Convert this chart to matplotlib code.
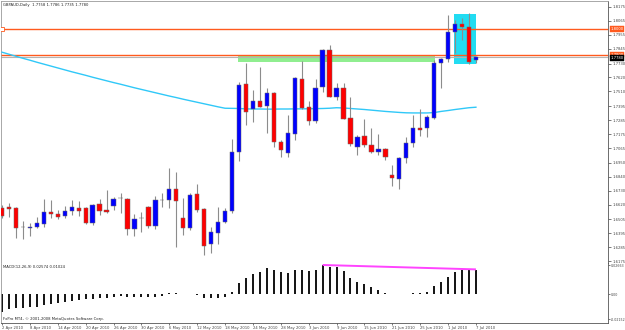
import matplotlib
matplotlib.use('Agg')
import matplotlib.pyplot as plt
from matplotlib.patches import Rectangle

# GBPAUD daily, 2 Apr 2010 .. 7 Jul 2010 (one bar per weekday)
opens = [1.6591, 1.6603, 1.6596, 1.6442, 1.6438, 1.6446, 1.6467, 1.6559, 1.6543, 1.6533,
         1.6572, 1.6596, 1.6596, 1.6473, 1.6622, 1.6577, 1.6609, 1.6670, 1.6662, 1.6428,
         1.6513, 1.6599, 1.6452, 1.6656, 1.6656, 1.6743, 1.6512, 1.6438, 1.6701, 1.6583,
         1.6307, 1.6394, 1.6485, 1.6572, 1.7036, 1.7567, 1.7370, 1.7438, 1.7396, 1.7496,
         1.7115, 1.7028, 1.7176, 1.7606, 1.7386, 1.7278, 1.7548, 1.7837, 1.7469, 1.7535,
         1.7299, 1.7076, 1.7160, 1.7089, 1.7036, 1.7055, 1.6851, 1.6819, 1.6984, 1.7102,
         1.7220, 1.7220, 1.7299, 1.7732, 1.7763, 1.7976, 1.8041, 1.8015, 1.7758]
highs = [1.6617, 1.6633, 1.6601, 1.6491, 1.6478, 1.6525, 1.6664, 1.6656, 1.6577, 1.6609,
         1.6656, 1.6648, 1.6603, 1.6625, 1.6664, 1.6735, 1.6682, 1.6711, 1.6670, 1.6546,
         1.6559, 1.6609, 1.6688, 1.6709, 1.6906, 1.6879, 1.6670, 1.6709, 1.6782, 1.6591,
         1.6446, 1.6599, 1.6591, 1.7134, 1.7587, 1.7732, 1.7522, 1.7705, 1.7535, 1.7508,
         1.7128, 1.7325, 1.7622, 1.7752, 1.7438, 1.7606, 1.7842, 1.7876, 1.7575, 1.7579,
         1.7464, 1.7168, 1.7291, 1.7220, 1.7173, 1.7063, 1.6932, 1.6992, 1.7154, 1.7325,
         1.7370, 1.7325, 1.7758, 1.7771, 1.8112, 1.8073, 1.8086, 1.8125, 1.7786]
lows = [1.6514, 1.6522, 1.6357, 1.6349, 1.6373, 1.6436, 1.6446, 1.6514, 1.6507, 1.6514,
        1.6538, 1.6530, 1.6467, 1.6462, 1.6538, 1.6556, 1.6577, 1.6554, 1.6381, 1.6373,
        1.6402, 1.6433, 1.6425, 1.6599, 1.6591, 1.6284, 1.6381, 1.6420, 1.6564, 1.6223,
        1.6237, 1.6310, 1.6473, 1.6551, 1.6963, 1.7246, 1.7272, 1.7386, 1.7181, 1.7076,
        1.6997, 1.6992, 1.7128, 1.7370, 1.7246, 1.7260, 1.7508, 1.7464, 1.7443, 1.7291,
        1.7081, 1.7010, 1.7076, 1.7028, 1.7010, 1.6971, 1.6766, 1.6740, 1.6950, 1.7073,
        1.7160, 1.7154, 1.7291, 1.7535, 1.7745, 1.7813, 1.7915, 1.7726, 1.7735]
closes = [1.6530, 1.6588, 1.6438, 1.6440, 1.6446, 1.6475, 1.6562, 1.6543, 1.6525, 1.6572,
          1.6599, 1.6572, 1.6473, 1.6617, 1.6572, 1.6562, 1.6664, 1.6669, 1.6425, 1.6507,
          1.6512, 1.6454, 1.6656, 1.6657, 1.6743, 1.6651, 1.6433, 1.6695, 1.6577, 1.6296,
          1.6402, 1.6485, 1.6572, 1.7036, 1.7561, 1.7351, 1.7438, 1.7390, 1.7501, 1.7115,
          1.7050, 1.7181, 1.7614, 1.7378, 1.7280, 1.7540, 1.7837, 1.7469, 1.7535, 1.7294,
          1.7097, 1.7154, 1.7089, 1.7036, 1.7055, 1.6992, 1.6827, 1.6984, 1.7102, 1.7220,
          1.7207, 1.7307, 1.7732, 1.7763, 1.7981, 1.8041, 1.8015, 1.7745, 1.7780]

# long moving average (light blue line)
ma = [1.7819, 1.7803, 1.7787, 1.7771, 1.7756, 1.7740, 1.7725, 1.7710, 1.7695, 1.7680,
      1.7665, 1.7651, 1.7637, 1.7622, 1.7608, 1.7594, 1.7580, 1.7567, 1.7553, 1.7539,
      1.7526, 1.7513, 1.7500, 1.7487, 1.7474, 1.7462, 1.7449, 1.7437, 1.7425, 1.7413,
      1.7401, 1.7389, 1.7378, 1.7377, 1.7376, 1.7373, 1.7372, 1.7372, 1.7371, 1.7371,
      1.7372, 1.7372, 1.7373, 1.7373, 1.7374, 1.7375, 1.7376, 1.7378, 1.7382, 1.7380,
      1.7376, 1.7372, 1.7368, 1.7363, 1.7358, 1.7353, 1.7349, 1.7345, 1.7342, 1.7341,
      1.7341, 1.7341, 1.7344, 1.7353, 1.7360, 1.7368, 1.7375, 1.7382, 1.7386]

# MACD(12,26,9) main histogram
macd = [-0.0158, -0.0137, -0.0127, -0.0122, -0.0118, -0.0113, -0.0097, -0.0088, -0.0076, -0.0067,
        -0.0058, -0.0052, -0.0046, -0.0043, -0.0036, -0.0031, -0.0022, -0.0015, -0.0022, -0.0025,
        -0.0025, -0.0025, -0.0022, -0.0015, 0.0012, 0.0015, 0.0006, 0.0005, -0.0003, -0.0031,
        -0.0036, -0.0036, -0.0027, 0.0024, 0.0100, 0.0145, 0.0185, 0.0206, 0.0237, 0.0221,
        0.0206, 0.0197, 0.0221, 0.0221, 0.0215, 0.0221, 0.0267, 0.0251, 0.0245, 0.0215,
        0.0145, 0.0115, 0.0091, 0.0064, 0.0039, 0.0015, 0.0003, 0.0004, 0.0006, 0.0009,
        0.0015, 0.0024, 0.0076, 0.0109, 0.0160, 0.0206, 0.0221, 0.0221, 0.0225]

date_labels = ['2 Apr 2010', '8 Apr 2010', '14 Apr 2010', '20 Apr 2010', '26 Apr 2010',
               '30 Apr 2010', '6 May 2010', '12 May 2010', '18 May 2010', '24 May 2010',
               '28 May 2010', '3 Jun 2010', '9 Jun 2010', '15 Jun 2010', '21 Jun 2010',
               '25 Jun 2010', '1 Jul 2010', '7 Jul 2010']
price_ticks = [1.8175, 1.8065, 1.7955, 1.7845, 1.7730, 1.7620, 1.7510, 1.7395, 1.7285, 1.7175,
               1.7065, 1.6950, 1.6840, 1.6730, 1.6620, 1.6505, 1.6395, 1.6285, 1.6175]
macd_ticks = [0.0266, 0.0, -0.0228]
macd_tick_labels = ['0.02663', '0.00', '-0.02152']

# drawn objects
h_levels = [1.8000, 1.7800]
green_zone = [33.9, 62.1, 1.7745, 1.7790]   # bar from, bar to, price low, price high
cyan_box = [64.9, 68.0, 1.7724, 1.8120]
trend_bars = [46, 68]
trend_vals = [0.0267, 0.0227]
title = 'GBPAUD,Daily  1.7758 1.7786 1.7735 1.7780'
last_price = 1.7780

BULL = '#0000ff'
BEAR = '#ff0000'
WICK = '#8c8c8c'
ORANGE = '#ff5a1e'
FS = 2.7

fig = plt.figure(figsize=(6.25, 3.3), dpi=100)
ax = fig.add_axes([0.0016, 0.2030, 0.9712, 0.7940])
ax2 = fig.add_axes([0.0016, 0.0212, 0.9712, 0.1818], sharex=ax)

n = len(closes)
xs = list(range(n))

# zones behind the candles
gx0, gx1, gy0, gy1 = green_zone
ax.add_patch(Rectangle((gx0, gy0), gx1 - gx0, gy1 - gy0, color='#90ee90', lw=0, zorder=1))
cx0, cx1, cy0, cy1 = cyan_box
ax.add_patch(Rectangle((cx0, cy0), cx1 - cx0, cy1 - cy0, color='#22dcf2', lw=0, zorder=1))

for lvl in h_levels:
    ax.axhline(lvl, color=ORANGE, lw=1.0, zorder=2)
ax.plot([0], [h_levels[0]], marker='s', ms=2.2, mfc='white', mec=ORANGE, mew=0.6, zorder=3)
ax.axhline(last_price, color='#b4b4b4', lw=0.8, zorder=2)

ax.plot(xs, ma, color='#30c8f8', lw=1.0, zorder=3)

ax.vlines(xs, lows, highs, color=WICK, lw=0.8, zorder=4)
body_lo = [min(o, c) for o, c in zip(opens, closes)]
body_h = [max(abs(c - o), 0.00015) for o, c in zip(opens, closes)]
cols = [BULL if c >= o else BEAR for o, c in zip(opens, closes)]
ax.bar(xs, body_h, bottom=body_lo, width=0.62, color=cols, edgecolor='#6a6a6a',
       linewidth=0.35, zorder=5)

ax.set_xlim(-0.15, 86.95)
ax.set_ylim(1.6160, 1.8222)
ax.yaxis.tick_right()
ax.set_yticks(price_ticks)
ax.set_yticklabels(['%.4f' % t for t in price_ticks])
ax.tick_params(axis='y', labelsize=FS, length=2, width=0.5, pad=1.2, colors='#444444')
ax.tick_params(axis='x', bottom=False, labelbottom=False)
for s in ax.spines.values():
    s.set_color('#9a9a9a')
    s.set_linewidth(0.6)
ax.spines['right'].set_color('#555555')
ax.spines['bottom'].set_color('#555555')

# price labels on the right axis
for lvl in h_levels:
    ax.text(1.004, lvl, '%.4f' % lvl, transform=ax.get_yaxis_transform(), fontsize=FS,
            color='white', va='center', ha='left',
            bbox=dict(boxstyle='square,pad=0.2', fc=ORANGE, ec=ORANGE, lw=0.3), zorder=10,
            clip_on=False)
ax.text(1.004, last_price - 0.0005, '%.4f' % last_price, transform=ax.get_yaxis_transform(),
        fontsize=FS, color='white', va='center', ha='left',
        bbox=dict(boxstyle='square,pad=0.2', fc='black', ec='black', lw=0.3), zorder=11,
        clip_on=False)

fig.text(3 / 625, 1 - 5 / 330, title, fontsize=FS, color='#222222', va='center', ha='left')

# MACD window
ax2.vlines(xs, 0, macd, color='black', lw=1.3)
ax2.plot(trend_bars, trend_vals, color='#ff44ff', lw=1.4, solid_capstyle='butt')
ax2.set_ylim(-0.0261, 0.0285)
ax2.yaxis.tick_right()
ax2.set_yticks(macd_ticks)
ax2.set_yticklabels(macd_tick_labels)
ax2.tick_params(axis='y', labelsize=2.3, length=1.5, width=0.5, pad=0.6, colors='#444444')
ax2.set_xticks(range(0, n, 4))
ax2.set_xticklabels(date_labels, ha='left')
ax2.tick_params(axis='x', labelsize=FS, length=1.5, width=0.5, pad=0.8, colors='#444444')
for s in ax2.spines.values():
    s.set_color('#9a9a9a')
    s.set_linewidth(0.6)
ax2.spines['right'].set_color('#555555')
ax2.spines['bottom'].set_color('#555555')
ax2.spines['top'].set_visible(False)
ax2.text(0.003, 0.93, 'MACD(12,26,9) 0.02574 0.01024', transform=ax2.transAxes,
         fontsize=FS, color='#222222', va='center', ha='left')
ax2.text(0.003, 0.07, 'FxPro MT4, \u00a9 2001-2008 MetaQuotes Software Corp.',
         transform=ax2.transAxes, fontsize=FS, color='#222222', va='center', ha='left')

fig.savefig('out.png', dpi=100)
